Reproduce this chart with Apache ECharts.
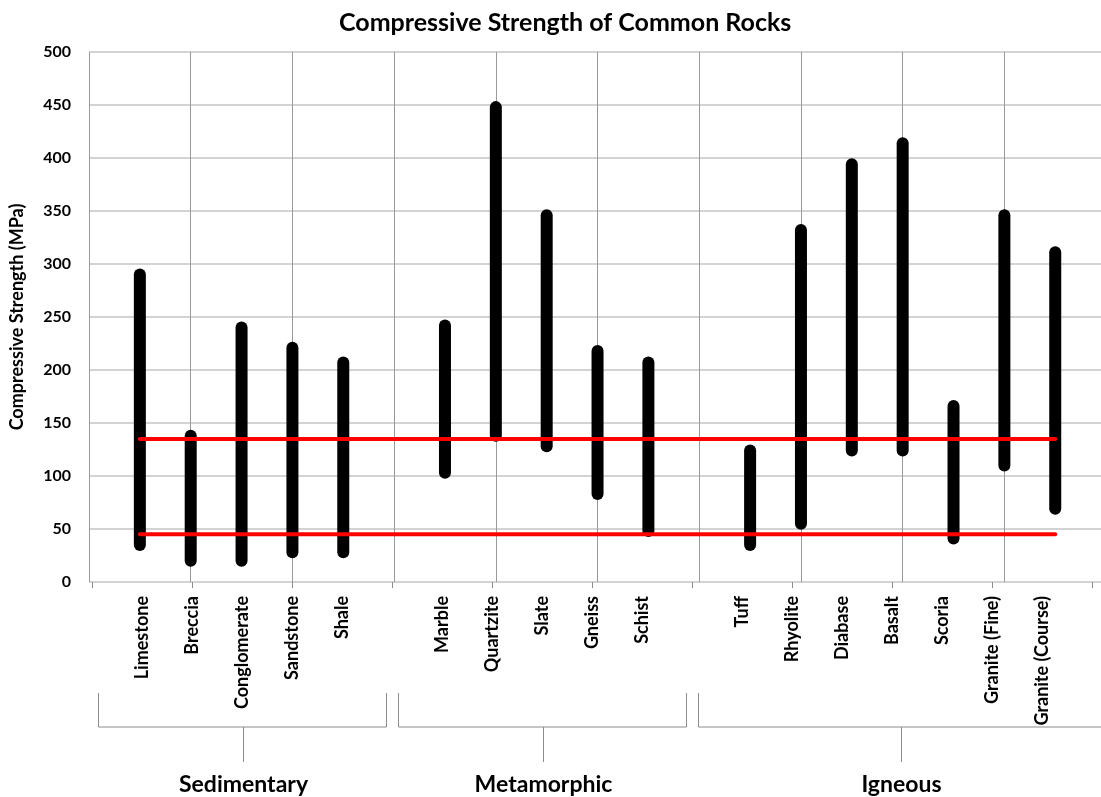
<!DOCTYPE html>
<html>
<head>
<meta charset="utf-8">
<title>Compressive Strength of Common Rocks</title>
<script src="https://cdn.jsdelivr.net/npm/echarts@6/dist/echarts.min.js"></script>
<style>
  html, body { margin: 0; padding: 0; background: #ffffff; }
  #chart { width: 1101px; height: 797px; }
</style>
</head>
<body>
<div id="chart"></div>
<script>
// Rock types, grouped by origin
const groupNames = ['Sedimentary', 'Metamorphic', 'Igneous'];
const sedimentary = ['Limestone', 'Breccia', 'Conglomerate', 'Sandstone', 'Shale'];
const metamorphic = ['Marble', 'Quartzite', 'Slate', 'Gneiss', 'Schist'];
const igneous = ['Tuff', 'Rhyolite', 'Diabase', 'Basalt', 'Scoria', 'Granite (Fine)', 'Granite (Course)'];

// Strength range of each rock (MPa), in the same order as the names above
const lowMPa  = [35, 20, 20, 28, 28,   103, 138, 128, 83, 48,   35, 55, 124, 124, 41, 110, 69];
const highMPa = [290, 138, 240, 221, 207,   242, 448, 346, 218, 207,   124, 332, 394, 414, 166, 346, 311];

// Horizontal reference levels (MPa)
const referenceLevels = [45, 135];

// Value axis ticks
const yMin = 0, yMax = 500, yStep = 50;

// ---- build slot positions: one slot per rock, one empty slot between groups
const groups = [sedimentary, metamorphic, igneous];
const slotNames = [''];          // slot 0 is the axis origin
const rockSlots = [];
const groupSpans = [];
groups.forEach((g) => {
  const start = slotNames.length - 1;
  g.forEach(name => { rockSlots.push(slotNames.length); slotNames.push(name); });
  slotNames.push('');            // gap after each group
  groupSpans.push([start, slotNames.length - 1]);
});
const lastSlot = slotNames.length - 1;   // 20

const rangeData = rockSlots.map((s, i) => [s, lowMPa[i], highMPa[i]]);
const firstRock = rockSlots[0], lastRock = rockSlots[rockSlots.length - 1];

const FONT = 'Lato, "Open Sans", sans-serif';

const chart = echarts.init(document.getElementById('chart'), null, { renderer: 'canvas' });

const option = {
  backgroundColor: '#ffffff',
  animation: false,
  title: {
    text: 'Compressive Strength of Common Rocks',
    left: 334,
    top: 5,
    textStyle: { fontFamily: FONT, fontWeight: 'bold', fontSize: 25, color: '#000' }
  },
  grid: [
    { left: 89, right: -3, top: 52, bottom: 215 },
    { left: 92, right: 9, top: 52, bottom: 215 }
  ],
  xAxis: [
    {
      type: 'value', gridIndex: 0,
      min: 0, max: 19.9, interval: 2,
      axisLine: { show: false },
      axisTick: { show: false },
      axisLabel: { show: false },
      splitLine: { show: true, lineStyle: { color: '#9a9a9a', width: 1 } }
    },
    {
      type: 'category', gridIndex: 1,
      data: slotNames,
      boundaryGap: false,
      axisLine: { show: false },
      axisTick: { show: true, interval: 1, length: 6, lineStyle: { color: '#8c8c8c' } },
      axisLabel: {
        interval: 0, rotate: 90, margin: 14,
        fontFamily: FONT, fontWeight: 'bold', fontSize: 18, color: '#000'
      },
      splitLine: { show: false }
    }
  ],
  yAxis: [
    {
      type: 'value', gridIndex: 0,
      min: yMin, max: yMax, interval: yStep,
      name: 'Compressive Strength (MPa)',
      nameLocation: 'middle', nameGap: 63,
      nameTextStyle: { fontFamily: FONT, fontWeight: 'bold', fontSize: 18, color: '#000' },
      axisLine: { show: false },
      axisTick: { show: false },
      axisLabel: { margin: 18, fontFamily: FONT, fontWeight: 'bold', fontSize: 16, color: '#000' },
      splitLine: { show: true, lineStyle: { color: '#c4c4c4', width: 1.5 } }
    },
    {
      type: 'value', gridIndex: 1, min: yMin, max: yMax,
      show: false, splitLine: { show: false }
    }
  ],
  series: [
    {
      name: 'Strength range',
      type: 'custom',
      xAxisIndex: 0, yAxisIndex: 0,
      data: rangeData,
      encode: { x: 0, y: [1, 2] },
      z: 3,
      renderItem: function (params, api) {
        const lo = api.coord([api.value(0), api.value(1)]);
        const hi = api.coord([api.value(0), api.value(2)]);
        return {
          type: 'line',
          shape: { x1: lo[0], y1: lo[1], x2: hi[0], y2: hi[1] },
          style: { stroke: '#000000', lineWidth: 12, lineCap: 'round' }
        };
      }
    }
  ].concat(referenceLevels.map(v => ({
    name: 'Reference ' + v,
    type: 'line',
    xAxisIndex: 0, yAxisIndex: 0,
    data: [[firstRock, v], [lastRock, v]],
    symbol: 'none',
    z: 4,
    lineStyle: { color: '#ff0000', width: 4, cap: 'round' }
  })))
};

chart.setOption(option);

// ---- group brackets under the category labels, placed from the label axis
function slotToPixel(u) {
  const p0 = chart.convertToPixel({ xAxisIndex: 1 }, 0);
  const pN = chart.convertToPixel({ xAxisIndex: 1 }, lastSlot);
  return p0 + (pN - p0) * u / lastSlot;
}
const bracketTop = 693, bracketBase = 727, stemEnd = 762, groupLabelY = 785;
const inset = 0.12;
const bracketStyle = { stroke: '#8c8c8c', lineWidth: 1 };
const graphics = [];
groupSpans.forEach((span, i) => {
  const isLast = i === groupSpans.length - 1;
  const xl = Math.round(slotToPixel(span[0] + inset)) + 0.5;
  // the last bracket runs on past the right edge of the chart
  const xr = Math.round(slotToPixel(isLast ? span[1] + 0.2 : span[1] - inset)) + 0.5;
  const xm = Math.round((xl + xr) / 2) + 0.5;
  graphics.push({
    type: 'polyline', silent: true,
    shape: { points: [[xl, bracketTop], [xl, bracketBase], [xr, bracketBase], [xr, bracketTop]] },
    style: bracketStyle
  });
  graphics.push({
    type: 'line', silent: true,
    shape: { x1: xm, y1: bracketBase, x2: xm, y2: stemEnd },
    style: bracketStyle
  });
  graphics.push({
    type: 'text', silent: true,
    x: xm, y: groupLabelY,
    style: {
      text: groupNames[i], fill: '#000',
      font: 'bold 23px ' + FONT,
      textAlign: 'center', textVerticalAlign: 'middle'
    }
  });
});
chart.setOption({ graphic: graphics });
</script>
</body>
</html>
